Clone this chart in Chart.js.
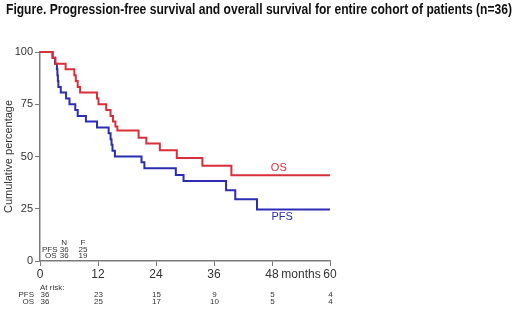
<!DOCTYPE html>
<html>
<head>
<meta charset="utf-8">
<script src="https://cdn.jsdelivr.net/npm/chart.js@4/dist/chart.umd.min.js"></script>
<style>
html,body{margin:0;padding:0;background:#fff;}
#wrap{width:520px;height:313px;position:relative;}
</style>
</head>
<body>
<div id="wrap"><canvas id="c" width="520" height="313"></canvas></div>
<script>
const titleText = "Figure. Progression-free survival and overall survival for entire cohort of patients (n=36)";
const yTitle = "Cumulative percentage";
const xUnitLabel = "months";

const osTimes = [0, 2.6, 3.2, 5.3, 7.1, 7.4, 7.8, 8.3, 11.8, 12.1, 13.7, 14.6, 15.1, 15.6, 16.0, 20.4, 22.0, 24.8, 28.3, 33.6, 39.6, 60];
const osSurv  = [100, 97.2, 94.4, 91.7, 88.9, 86.1, 83.3, 80.6, 77.8, 75.0, 72.2, 69.4, 66.7, 64.4, 62.5, 59.0, 56.2, 53.0, 49.3, 45.6, 41.0, 41.0];

const pfsTimes = [0, 2.6, 3.1, 3.5, 3.6, 3.7, 3.8, 4.3, 5.4, 6.1, 7.3, 7.8, 9.5, 11.8, 14.2, 14.6, 14.8, 15.0, 15.5, 21.0, 21.6, 28.1, 29.7, 38.5, 40.4, 44.9, 60];
const pfsSurv  = [100, 97.2, 94.4, 91.7, 88.9, 86.1, 83.3, 80.6, 77.8, 75.0, 72.2, 69.4, 66.7, 63.9, 61.1, 58.3, 55.6, 52.8, 50.0, 47.2, 44.4, 41.1, 38.3, 33.8, 29.5, 24.6, 24.6];

const xTicks = [0, 12, 24, 36, 48, 60];
const riskPFS = [36, 23, 15, 9, 5, 4];
const riskOS  = [36, 25, 17, 10, 5, 4];
const summaryHeader = ["N", "F"];
const summaryPFS = [36, 25];
const summaryOS = [36, 19];

const RED = '#d92f38';
const BLUE = '#2c2cb4';
const AXIS = '#7a7a7a';
const TXT = '#333333';
const FONT = "'Liberation Sans', Arial, sans-serif";

function pts(t, s){ return t.map((v,i)=>({x:v, y:s[i]})); }

const extras = {
  id: 'extras',
  afterDraw(chart){
    const ctx = chart.ctx, xs = chart.scales.x, ys = chart.scales.y;
    ctx.save();
    // title
    ctx.font = "bold 14px 'Liberation Sans Narrow', 'Liberation Sans', Arial, sans-serif";
    ctx.fillStyle = '#111';
    ctx.textBaseline = 'alphabetic';
    ctx.textAlign = 'left';
    const w = ctx.measureText(titleText).width;
    const target = 506;
    ctx.save();
    ctx.translate(6, 14);
    ctx.scale(target / w, 1);
    ctx.fillText(titleText, 0, 0);
    ctx.restore();

    // curve labels
    ctx.font = "11px " + FONT;
    ctx.textAlign = 'center';
    ctx.textBaseline = 'middle';
    ctx.fillStyle = RED;
    ctx.fillText('OS', xs.getPixelForValue(49.4), ys.getPixelForValue(44.5));
    ctx.fillStyle = BLUE;
    ctx.fillText('PFS', xs.getPixelForValue(50.1), ys.getPixelForValue(21));

    // summary N/F table
    ctx.font = "8px " + FONT;
    ctx.fillStyle = TXT;
    const c1 = xs.getPixelForValue(5.0), c2 = xs.getPixelForValue(8.9);
    const r0 = 243, r1 = 249.5, r2 = 256;
    ctx.textAlign = 'center';
    ctx.fillText(summaryHeader[0], c1, r0);
    ctx.fillText(summaryHeader[1], c2, r0);
    ctx.textAlign = 'left';
    ctx.fillText('PFS', 42, r1);
    ctx.fillText('OS', 45, r2);
    ctx.textAlign = 'center';
    ctx.fillText(String(summaryPFS[0]), c1, r1);
    ctx.fillText(String(summaryPFS[1]), c2, r1);
    ctx.fillText(String(summaryOS[0]), c1, r2);
    ctx.fillText(String(summaryOS[1]), c2, r2);

    // at risk table
    ctx.textAlign = 'left';
    ctx.fillText('At risk:', 40, 287.5);
    ctx.textAlign = 'right';
    ctx.fillText('PFS', 34, 295);
    ctx.fillText('OS', 34, 301.5);
    xTicks.forEach((t, i) => {
      let px = xs.getPixelForValue(t);
      if (i === 0) { ctx.textAlign = 'left'; px += 0.5; } else { ctx.textAlign = 'center'; px += 0.5; }
      ctx.fillText(String(riskPFS[i]), px, 295);
      ctx.fillText(String(riskOS[i]), px, 301.5);
    });
    ctx.restore();
  }
};

new Chart(document.getElementById('c'), {
  type: 'line',
  data: {
    datasets: [
      { label: 'OS', data: pts(osTimes, osSurv), borderColor: RED, borderWidth: 2, stepped: 'before', pointRadius: 0, fill: false, clip: 5 },
      { label: 'PFS', data: pts(pfsTimes, pfsSurv), borderColor: BLUE, borderWidth: 2, stepped: 'before', pointRadius: 0, fill: false, clip: 5 }
    ]
  },
  options: {
    responsive: false,
    animation: false,
    devicePixelRatio: 1,
    layout: { padding: { left: 0, right: 190, top: 52, bottom: 0 } },
    plugins: { legend: { display: false }, title: { display: false }, tooltip: { enabled: false } },
    scales: {
      x: {
        type: 'linear', min: 0, max: 60,
        afterFit(s){ s.height = 52; },
        border: { display: true, color: AXIS, width: 1.5 },
        grid: { drawOnChartArea: false, drawTicks: true, tickLength: 5,
                tickColor: c => (c.tick && c.tick.value % 12 === 0) ? AXIS : 'rgba(0,0,0,0)' },
        ticks: { stepSize: 6, autoSkip: false, maxRotation: 0, padding: 1, color: TXT,
                 font: { family: FONT, size: 12 },
                 callback: v => (v % 12 === 0) ? String(v) : (v === 54 ? xUnitLabel : '') }
      },
      y: {
        min: 0, max: 100,
        afterFit(s){ s.width = 40; },
        border: { display: true, color: AXIS, width: 1.5 },
        grid: { drawOnChartArea: false, drawTicks: true, tickLength: 5, tickColor: AXIS },
        ticks: { stepSize: 25, padding: 2, color: TXT, font: { family: FONT, size: 11 } },
        title: { display: true, text: yTitle, color: TXT, padding: { top: 2, bottom: 0 },
                 font: { family: FONT, size: 11 } }
      }
    }
  },
  plugins: [extras]
});
</script>
</body>
</html>
